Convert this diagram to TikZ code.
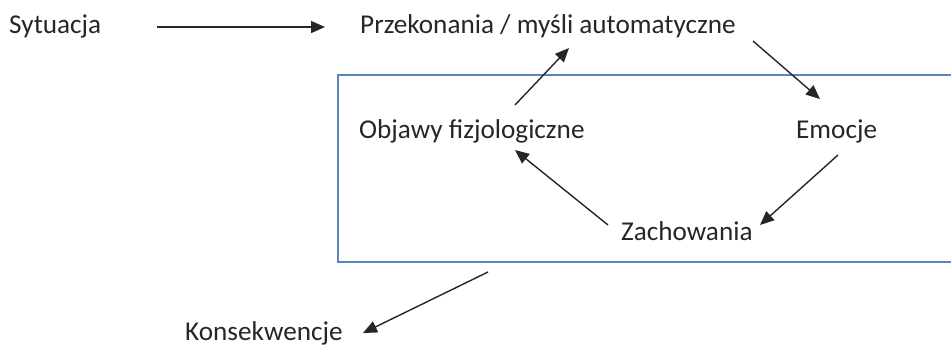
\documentclass[tikz,border=0pt]{standalone}
\usepackage{fontspec}
\setmainfont{Carlito}
\usetikzlibrary{arrows.meta}
\definecolor{boxblue}{HTML}{5B87BC}
\definecolor{txt}{HTML}{262626}
\tikzset{
  lbl/.style={anchor=base west, inner sep=0pt, text=txt, font=\fontsize{27.2}{32}\selectfont},
  arr/.style={draw=black!85, line width=1.4pt, -{Triangle[length=14pt,width=12pt]}},
  frame/.style={draw=boxblue, line width=1.6pt}
}
\begin{document}
\begin{tikzpicture}[x=1pt,y=-1pt]
\useasboundingbox (0,0) rectangle (951,346);
\begin{scope}
\clip (0,0) rectangle (951,346);
\node[frame, minimum width=640pt, minimum height=187pt, anchor=north west, inner sep=0pt] (box) at (337,74) {};
\end{scope}
\node[lbl] (syt) at (9,33) {Sytuacja};
\node[lbl] (prz) at (360,33) {Przekonania / myśli automatyczne};
\node[lbl] (obj) at (359,138) {Objawy fizjologiczne};
\node[lbl] (emo) at (796,138) {Emocje};
\node[lbl] (zach) at (621,240) {Zachowania};
\node[lbl] (kons) at (185,340) {Konsekwencje};
% connector end points
\coordinate (a1s) at (157,27);  \coordinate (a1e) at (325,27);
\coordinate (a2s) at (515,105); \coordinate (a2e) at (569,48);
\coordinate (a3s) at (753,41);  \coordinate (a3e) at (820,99);
\coordinate (a4s) at (838,155); \coordinate (a4e) at (760,225);
\coordinate (a5s) at (608,225); \coordinate (a5e) at (515,150);
\coordinate (a6s) at (488,272); \coordinate (a6e) at (363,333);
\draw[arr] (a1s) -- (a1e);
\draw[arr] (a2s) -- (a2e);
\draw[arr] (a3s) -- (a3e);
\draw[arr] (a4s) -- (a4e);
\draw[arr] (a5s) -- (a5e);
\draw[arr] (a6s) -- (a6e);
\end{tikzpicture}
\end{document}
